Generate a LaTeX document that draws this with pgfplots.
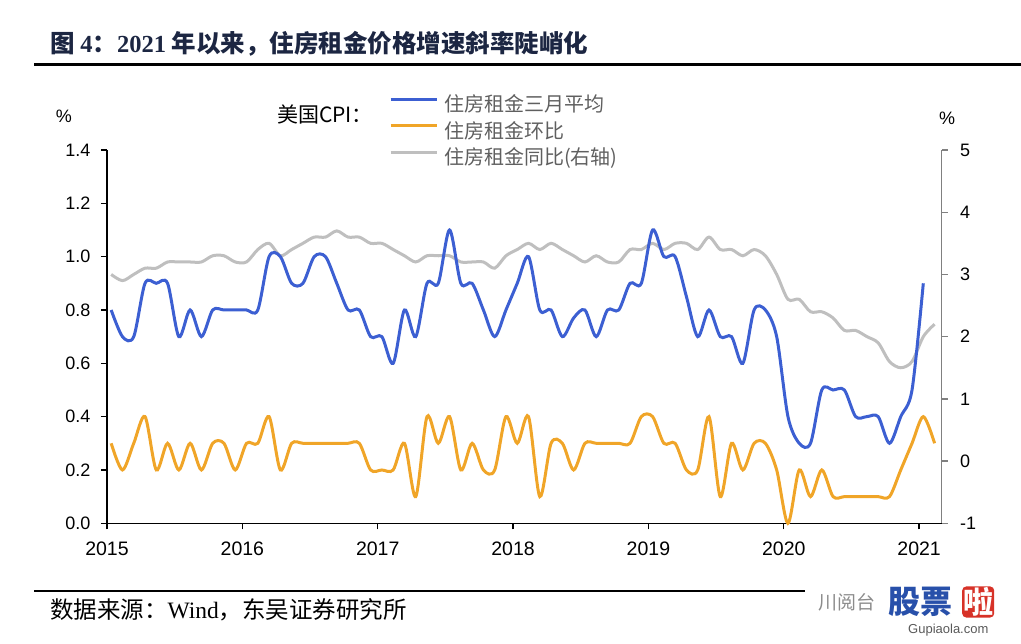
\documentclass[border=0pt]{standalone}
\usepackage{pgfplots}
\pgfplotsset{compat=1.18}
\usepackage{pgfplotstable}
\usepackage{fontspec}
\setmainfont{Liberation Sans}
\newfontfamily\cjk{Noto Sans CJK SC}
\newfontfamily\tnr{Liberation Serif}
\definecolor{cblue}{RGB}{60,95,210}
\definecolor{corange}{RGB}{240,165,40}
\definecolor{cgray}{RGB}{191,191,191}
\definecolor{raxis}{RGB}{128,128,128}
\definecolor{legtext}{RGB}{95,95,95}
\definecolor{titlec}{RGB}{28,38,66}
\definecolor{wmblue}{RGB}{40,80,170}
\definecolor{wmred}{RGB}{215,50,40}

\pgfplotstableread{
m blue orange gray
0 0.8 0.3 3.0
1 0.7 0.2 2.9
2 0.7 0.3 3.0
3 0.9 0.4 3.1
4 0.9 0.2 3.1
5 0.9 0.3 3.2
6 0.7 0.2 3.2
7 0.8 0.3 3.2
8 0.7 0.2 3.2
9 0.8 0.3 3.3
10 0.8 0.3 3.3
11 0.8 0.2 3.2
12 0.8 0.3 3.2
13 0.8 0.3 3.4
14 1.0 0.4 3.5
15 1.0 0.2 3.3
16 0.9 0.3 3.4
17 0.9 0.3 3.5
18 1.0 0.3 3.6
19 1.0 0.3 3.6
20 0.9 0.3 3.7
21 0.8 0.3 3.6
22 0.8 0.3 3.6
23 0.7 0.2 3.5
24 0.7 0.2 3.5
25 0.6 0.2 3.4
26 0.8 0.3 3.3
27 0.7 0.1 3.2
28 0.9 0.4 3.3
29 0.9 0.3 3.3
30 1.1 0.4 3.3
31 0.9 0.2 3.2
32 0.9 0.3 3.2
33 0.8 0.2 3.2
34 0.7 0.2 3.1
35 0.8 0.4 3.3
36 0.9 0.3 3.4
37 1.0 0.4 3.5
38 0.8 0.1 3.4
39 0.8 0.3 3.5
40 0.7 0.3 3.4
41 0.77 0.2 3.3
42 0.8 0.3 3.2
43 0.7 0.3 3.3
44 0.8 0.3 3.2
45 0.8 0.3 3.2
46 0.9 0.3 3.4
47 0.9 0.4 3.4
48 1.1 0.4 3.5
49 1.0 0.3 3.4
50 1.0 0.3 3.5
51 0.85 0.2 3.5
52 0.7 0.2 3.4
53 0.8 0.4 3.6
54 0.7 0.1 3.4
55 0.7 0.3 3.4
56 0.6 0.2 3.3
57 0.8 0.3 3.4
58 0.8 0.3 3.3
59 0.7 0.2 3.0
60 0.4 0.0 2.6
61 0.3 0.2 2.6
62 0.3 0.1 2.4
63 0.5 0.2 2.4
64 0.5 0.1 2.3
65 0.5 0.1 2.1
66 0.4 0.1 2.1
67 0.4 0.1 2.0
68 0.4 0.1 1.9
69 0.3 0.1 1.6
70 0.4 0.2 1.5
71 0.5 0.3 1.6
72 0.9 0.4 2.0
73 nan 0.3 2.2
}\rentdata

\begin{document}
\begin{tikzpicture}[x=1pt,y=1pt]
\path[use as bounding box] (0,0) rectangle (1021,644);

% title and rules
\node[anchor=west, inner sep=0pt, text=titlec] at (50,600)
  {\cjk\fontsize{24.5}{26}\selectfont\bfseries 图 {\tnr\bfseries 4}：{\tnr\bfseries 2021} 年以来，住房租金价格增速斜率陡峭化};
\draw[line width=3pt, black] (34,579) -- (1021,579);
\draw[line width=2pt, black] (34,53) -- (805,53);
\node[anchor=west, inner sep=0pt] at (50,34)
  {\cjk\fontsize{23.5}{25}\selectfont 数据来源：{\tnr Wind}，东吴证券研究所};

% watermark
\node[anchor=west, inner sep=0pt, text=black!45] at (818,42) {\cjk\fontsize{19}{20}\selectfont 川阅台};
\node[anchor=west, inner sep=0pt, text=wmblue] at (888,42) {\cjk\fontsize{32}{34}\selectfont\bfseries 股票};
\node[anchor=west, inner sep=1pt, fill=wmred, rounded corners=4pt, text=white] at (962,42) {\cjk\fontsize{30}{32}\selectfont\bfseries 啦};
\node[anchor=west, inner sep=0pt, text=black!65] at (908,14) {\fontsize{13}{14}\selectfont Gupiaola.com};

% unit labels
\node[inner sep=0pt] at (64,528) {\fontsize{18}{20}\selectfont\%};
\node[inner sep=0pt] at (947,526) {\fontsize{18}{20}\selectfont\%};
\node[inner sep=0pt] at (325,530) {\cjk\fontsize{21}{23}\selectfont 美国CPI：};

% right axis (YoY)
\begin{axis}[
  at={(107pt,120.7pt)}, anchor=south west,
  width=834.7pt, height=373.3pt, scale only axis,
  xmin=0, xmax=74, ymin=-1, ymax=5,
  axis x line=none, axis y line*=right,
  axis line style={raxis, line width=1.3pt, -},
  tick align=outside, major tick length=6pt,
  ytick={-1,0,1,2,3,4,5},
  yticklabels={-1,0,1,2,3,4,5},
  y tick style={raxis, line width=1.3pt},
  yticklabel style={font=\fontsize{18}{20}\selectfont, anchor=west, xshift=9pt},
  /pgf/number format/assume math mode=true,
  clip=false,
]
\addplot[cgray, line width=3pt, smooth, tension=0.5] table[x expr=\thisrow{m}+0.37, y=gray] {\rentdata};
\end{axis}

% left axis
\begin{axis}[
  at={(107pt,120.7pt)}, anchor=south west,
  width=834.7pt, height=373.3pt, scale only axis,
  xmin=0, xmax=74, ymin=0, ymax=1.4,
  axis x line*=bottom, axis y line*=left,
  axis line style={black, line width=1.3pt, -},
  tick align=outside, major tick length=6pt,
  xtick={0,12,24,36,48,60,72},
  xticklabels={2015,2016,2017,2018,2019,2020,2021},
  ytick={0,0.2,0.4,0.6,0.8,1.0,1.2,1.4},
  yticklabels={0.0,0.2,0.4,0.6,0.8,1.0,1.2,1.4},
  tick style={black, line width=1.3pt},
  xticklabel style={font=\fontsize{19.5}{21}\selectfont, yshift=-9pt},
  yticklabel style={font=\fontsize{18}{20}\selectfont, xshift=-7pt},
  /pgf/number format/assume math mode=true,
  clip=false,
  legend style={at={(axis description cs:0.338,1.145)}, anchor=north west,
    draw=none, fill=none, inner sep=0pt, outer sep=0pt, row sep=5.5pt,
    font=\cjk\fontsize{20}{22}\selectfont, text=legtext,
    nodes={inner sep=0pt, text height=16pt, text depth=5pt},
    /tikz/every odd column/.append style={column sep=6pt}},
  legend cell align=left,
  legend image code/.code={\draw[#1, line width=3pt] (0pt,7pt) -- (46pt,7pt);},
]
\addplot[cblue, line width=3pt, smooth, tension=0.5] table[x expr=\thisrow{m}+0.37, y=blue] {\rentdata};
\addlegendentry{住房租金三月平均}
\addplot[corange, line width=3pt, smooth, tension=0.5] table[x expr=\thisrow{m}+0.37, y=orange] {\rentdata};
\addlegendentry{住房租金环比}
\addlegendimage{cgray, line width=3pt}
\addlegendentry{住房租金同比(右轴)}
\end{axis}
\end{tikzpicture}
\end{document}
